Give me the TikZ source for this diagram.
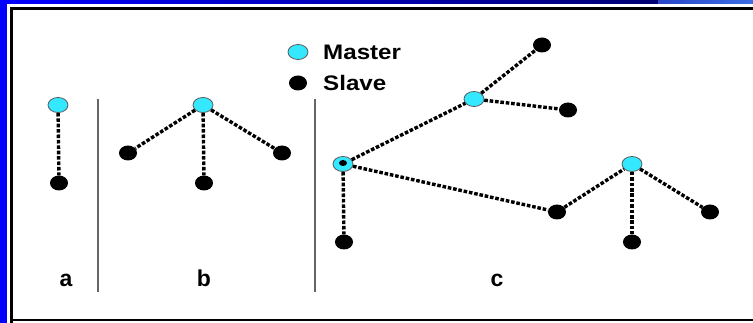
\documentclass[tikz,border=0pt]{standalone}
\usepackage{fontspec}
\setmainfont{Liberation Sans}
\usetikzlibrary{shapes.geometric}
\definecolor{mcyan}{RGB}{51,232,255}
\begin{document}
\begin{tikzpicture}[x=1pt,y=-1pt,
  master/.style={ellipse,minimum width=20pt,minimum height=15pt,inner sep=0pt,fill=mcyan,draw=black!65,line width=0.8pt},
  slave/.style={ellipse,minimum width=18pt,minimum height=15pt,inner sep=0pt,fill=black},
  link/.style={line width=3.4pt,black,dash pattern=on 3.6pt off 1.8pt},
  divider/.style={draw=black!60,line width=1.2pt},
  lab/.style={font=\bfseries\fontsize{23}{26}\selectfont,inner sep=0pt,anchor=base},
  leg/.style={font=\bfseries\fontsize{21}{24}\selectfont,inner sep=0pt,anchor=west,xscale=1.15}]
\useasboundingbox (0,0) rectangle (753,323);
\fill[white] (0,0) rectangle (753,323);
% frame
\shade[left color=blue,right color=blue!45!black] (0,0) rectangle (658,3.5);
\shade[left color={rgb,255:red,40;green,70;blue,200},right color={rgb,255:red,60;green,110;blue,230}] (658,0) rectangle (753,3.5);
\fill[blue] (0,0) rectangle (7,323);
\draw[black,line width=3pt] (11.5,323.5) -- (11.5,8.5) -- (760,8.5);
\draw[black,line width=2pt] (11.5,320) -- (760,320);
% legend
\node[master] (lm) at (298,52) {};
\node[slave] (ls) at (298,83) {};
\node[leg] (lmt) at (323,52) {Master};
\node[leg] (lst) at (323,83) {Slave};
% dividers
\coordinate (d1t) at (98,99);
\coordinate (d1b) at (98,292);
\coordinate (d2t) at (315,99);
\coordinate (d2b) at (315,292);
\draw[divider] (d1t) -- (d1b);
\draw[divider] (d2t) -- (d2b);
% a
\node[master] (ma) at (58,105) {};
\node[slave] (sa) at (59,183) {};
\draw[link] (ma) -- (sa);
% b
\node[master] (mb) at (203,105) {};
\node[slave] (sb1) at (128,153) {};
\node[slave] (sb2) at (204,183) {};
\node[slave] (sb3) at (282,153) {};
\draw[link] (mb) -- (sb1);
\draw[link] (mb) -- (sb2);
\draw[link] (mb) -- (sb3);
% c
\node[master] (mc1) at (343,164) {};
\node[ellipse,fill=black,minimum width=8pt,minimum height=6pt,inner sep=0pt] (mc1d) at (343,163) {};
\node[master] (mc2) at (474,99) {};
\node[master] (mc3) at (632,164) {};
\node[slave] (sc1) at (542,45) {};
\node[slave] (sc2) at (568,110) {};
\node[slave] (sc3) at (344,242) {};
\node[slave] (sc4) at (557,212) {};
\node[slave] (sc5) at (632,242) {};
\node[slave] (sc6) at (710,212) {};
\draw[link] (mc1) -- (mc2);
\draw[link] (mc1) -- (sc3);
\draw[link] (mc1) -- (sc4);
\draw[link] (mc2) -- (sc1);
\draw[link] (mc2) -- (sc2);
\draw[link] (sc4) -- (mc3);
\draw[link] (mc3) -- (sc5);
\draw[link] (mc3) -- (sc6);
% labels
\node[lab] (la) at (66,287) {a};
\node[lab] (lb) at (204,287) {b};
\node[lab] (lc) at (497,287) {c};
\end{tikzpicture}
\end{document}
